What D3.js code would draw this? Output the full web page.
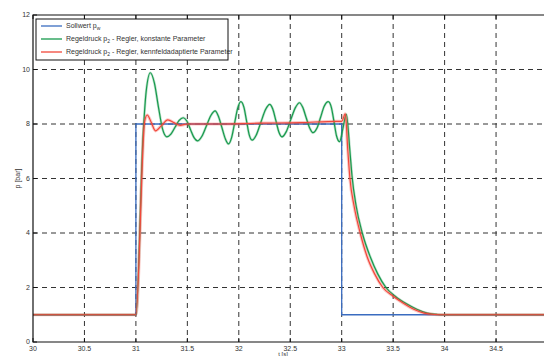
<!DOCTYPE html>
<html>
<head>
<meta charset="utf-8">
<script src="https://cdn.jsdelivr.net/npm/d3@7"></script>
<style>
  body { margin: 0; background: #fff; }
  text { font-family: "Liberation Sans", Arial, sans-serif; fill: #333; }
</style>
</head>
<body>
<div id="chart"></div>
<script>
// size of the window / picture
var w = 544;
var h = 356;

// ---- data ----
var xTicks = [30, 30.5, 31, 31.5, 32, 32.5, 33, 33.5, 34, 34.5];
var yTicks = [0, 2, 4, 6, 8, 10, 12];

// setpoint p_w
var sollT = [30, 31, 31, 33, 33, 35];
var sollP = [1, 1, 8, 8, 1, 1];

// p_2, constant controller parameters (green)
var konstT = [30, 31.0, 31.07, 31.1, 31.14, 31.18, 31.22, 31.26, 31.30,
              31.34, 31.38, 31.42, 31.46, 31.495, 31.53, 31.565, 31.60,
              31.64, 31.685, 31.73, 31.77, 31.80, 31.835, 31.87, 31.90,
              31.93, 31.96, 31.99, 32.02, 32.05, 32.075, 32.10, 32.13,
              32.17, 32.215, 32.26, 32.30, 32.33, 32.36, 32.39, 32.42,
              32.46, 32.505, 32.55, 32.59, 32.62, 32.655, 32.69, 32.72,
              32.76, 32.795, 32.83, 32.87, 32.90, 32.925, 32.95, 32.98,
              33.01, 33.045, 33.08, 33.1, 33.14, 33.2, 33.28, 33.35, 33.43,
              33.52, 33.63, 33.73, 33.83, 33.93, 34.0, 35];
var konstP = [1, 1, 7.6, 9.2, 9.88, 9.5, 8.6, 7.8, 7.53,
              7.63, 7.88, 8.13, 8.23, 8.11, 7.8, 7.5, 7.38,
              7.54, 7.93, 8.32, 8.48, 8.30, 7.88, 7.45, 7.27,
              7.5, 8.05, 8.59, 8.82, 8.61, 8.12, 7.62, 7.41,
              7.6, 8.07, 8.53, 8.72, 8.55, 8.13, 7.7, 7.53,
              7.71, 8.16, 8.6, 8.78, 8.62, 8.23, 7.84, 7.68,
              7.85, 8.25, 8.65, 8.82, 8.6, 8.09, 7.56, 7.35,
              7.8, 8.35, 7.0, 6.1, 5.0, 4.0, 3.1, 2.5, 2.0,
              1.68, 1.4, 1.2, 1.06, 1.01, 1.0, 1.0];

// p_2, map-adaptive controller parameters (red)
var adaptT = [30, 31.0, 31.085, 31.11, 31.15, 31.19, 31.25, 31.31, 31.37, 31.43, 31.5, 31.8,
              32.2, 32.6, 32.95, 33.0, 33.035, 33.06, 33.08, 33.12, 33.18, 33.25, 33.32, 33.4,
              33.5, 33.6, 33.7, 33.8, 33.9, 34.0, 35];
var adaptP = [1, 1, 8.1, 8.33, 8.05, 7.75, 7.95, 8.15, 8.05, 7.95, 8.0, 8.0,
              8.03, 8.05, 8.1, 8.1, 8.37, 7.0, 6.0, 5.0, 4.0, 3.1, 2.5, 2.0,
              1.68, 1.42, 1.2, 1.06, 1.01, 1.0, 1.0];

var legendLabels = [
  ["Sollwert p", "w", ""],
  ["Regeldruck p", "2", " - Regler, konstante Parameter"],
  ["Regeldruck p", "2", " - Regler, kennfeldadaptierte Parameter"]
];
var colors = ["#3a6cc0", "#17994c", "#f2473a"];

// ---- layout ----
var margin = {top: 15, left: 33, bottom: 14};
var x = d3.scaleLinear().domain([30, 35]).range([margin.left, 547.5]);
var y = d3.scaleLinear().domain([0, 12]).range([h - margin.bottom, margin.top]);

var svg = d3.select("#chart")
            .append("svg")
            .attr("width", w)
            .attr("height", h);

// dashed grid
svg.append("g")
   .selectAll("line")
   .data(xTicks.slice(1))
   .enter()
   .append("line")
   .attr("x1", function(d){ return x(d); })
   .attr("x2", function(d){ return x(d); })
   .attr("y1", y(12))
   .attr("y2", y(0))
   .style("stroke", "#333")
   .style("stroke-width", 1)
   .style("stroke-dasharray", "5,4");

svg.append("g")
   .selectAll("line")
   .data(yTicks.slice(1, -1))
   .enter()
   .append("line")
   .attr("x1", x(30))
   .attr("x2", w)
   .attr("y1", function(d){ return y(d); })
   .attr("y2", function(d){ return y(d); })
   .style("stroke", "#333")
   .style("stroke-width", 1)
   .style("stroke-dasharray", "5,4");

// curves
var line = d3.line()
             .x(function(d){ return x(d[0]); })
             .y(function(d){ return y(d[1]); });

var sollData = d3.zip(sollT, sollP);
var konstData = d3.zip(konstT, konstP);
var adaptData = d3.zip(adaptT, adaptP);

svg.append("path")
   .attr("d", line(sollData))
   .style("fill", "none")
   .style("stroke", colors[0])
   .style("stroke-width", 1.3);

var smooth = d3.line()
               .x(function(d){ return x(d[0]); })
               .y(function(d){ return y(d[1]); })
               .curve(d3.curveMonotoneX);

// soft band under the green line for the measurement noise
svg.append("path")
   .attr("d", smooth(konstData))
   .style("fill", "none")
   .style("stroke", colors[1])
   .style("stroke-opacity", 0.3)
   .style("stroke-width", 2.5);
svg.append("path")
   .attr("d", smooth(konstData))
   .style("fill", "none")
   .style("stroke", colors[1])
   .style("stroke-width", 1.2);

// red line with a noise band
svg.append("path")
   .attr("d", smooth(adaptData))
   .style("fill", "none")
   .style("stroke", colors[2])
   .style("stroke-opacity", 0.3)
   .style("stroke-width", 3.2);
svg.append("path")
   .attr("d", smooth(adaptData))
   .style("fill", "none")
   .style("stroke", colors[2])
   .style("stroke-width", 1.2);

// frame
svg.append("path")
   .attr("d", "M" + w + "," + y(12) + "H" + x(30) + "V" + y(0) + "H" + w)
   .style("fill", "none")
   .style("stroke", "#111")
   .style("stroke-width", 1.2);

// inward ticks
var tickLen = 4;
svg.append("g")
   .selectAll("line")
   .data(xTicks)
   .enter()
   .append("line")
   .attr("x1", function(d){ return x(d); })
   .attr("x2", function(d){ return x(d); })
   .attr("y1", y(0))
   .attr("y2", y(0) - tickLen)
   .style("stroke", "#111");
svg.append("g")
   .selectAll("line")
   .data(xTicks)
   .enter()
   .append("line")
   .attr("x1", function(d){ return x(d); })
   .attr("x2", function(d){ return x(d); })
   .attr("y1", y(12))
   .attr("y2", y(12) + tickLen)
   .style("stroke", "#111");
svg.append("g")
   .selectAll("line")
   .data(yTicks)
   .enter()
   .append("line")
   .attr("x1", x(30))
   .attr("x2", x(30) + tickLen)
   .attr("y1", function(d){ return y(d); })
   .attr("y2", function(d){ return y(d); })
   .style("stroke", "#111");

// tick labels
svg.append("g")
   .selectAll("text")
   .data(xTicks)
   .enter()
   .append("text")
   .attr("x", function(d){ return x(d); })
   .attr("y", h - 5)
   .attr("text-anchor", "middle")
   .style("font-size", "7px")
   .text(function(d){ return d; });

svg.append("g")
   .selectAll("text")
   .data(yTicks)
   .enter()
   .append("text")
   .attr("x", x(30) - 3)
   .attr("y", function(d){ return y(d) + 2; })
   .attr("text-anchor", "end")
   .style("font-size", "7px")
   .text(function(d){ return d; });

// axis titles
svg.append("text")
   .attr("x", 283)
   .attr("y", h - 0.5)
   .attr("text-anchor", "middle")
   .style("font-size", "6px")
   .text("t [s]");

svg.append("text")
   .attr("transform", "translate(20," + y(6) + ") rotate(-90)")
   .attr("text-anchor", "middle")
   .style("font-size", "7px")
   .text("p [bar]");

// legend
var lg = svg.append("g").attr("transform", "translate(36,19)");
lg.append("rect")
  .attr("width", 192)
  .attr("height", 41)
  .style("fill", "#fff")
  .style("stroke", "#111")
  .style("stroke-width", 1);

var item = lg.selectAll("g.item")
             .data(legendLabels)
             .enter()
             .append("g")
             .attr("class", "item")
             .attr("transform", function(d, i){ return "translate(0," + (7 + i * 13) + ")"; });

item.append("line")
    .attr("x1", 5)
    .attr("x2", 26)
    .style("stroke", function(d, i){ return colors[i]; })
    .style("stroke-width", 1.3);

var lt = item.append("text")
             .attr("x", 30)
             .attr("y", 2)
             .style("font-size", "7px");
lt.append("tspan").text(function(d){ return d[0]; });
lt.append("tspan").attr("dy", 2).style("font-size", "5px").text(function(d){ return d[1]; });
lt.append("tspan").attr("dy", -2).text(function(d){ return d[2]; });
</script>
</body>
</html>
